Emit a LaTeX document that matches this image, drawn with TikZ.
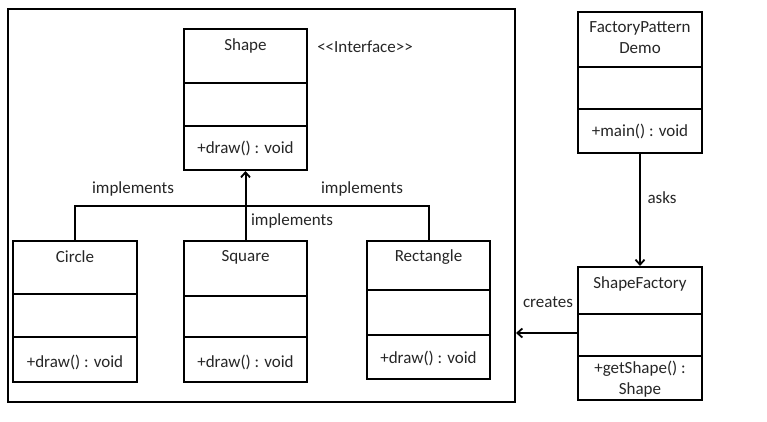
\documentclass[tikz,border=0pt]{standalone}
\usepackage{fontspec}
\setmainfont{Carlito}
\usetikzlibrary{arrows.meta}
\tikzset{
  cls/.style={draw=black, line width=2pt, fill=white, inner sep=0pt},
  txt/.style={inner sep=0pt, font=\fontsize{17}{21}\selectfont, text=black!85, align=center},
  conn/.style={draw=black, line width=2pt},
  arr/.style={conn, -{Straight Barb[length=5pt,width=9pt,line width=1.8pt]}},
}
\begin{document}
\begin{tikzpicture}[x=1pt,y=-1pt]
\useasboundingbox (0,0) rectangle (767,421);
% frame
\node[cls, minimum width=507pt, minimum height=393pt] (frame) at (261.5,205.5) {};
% Shape interface
\node[cls, minimum width=123pt, minimum height=141pt] (shape) at (245.5,99.5) {};
\draw[conn] (shape.west |- 0,83) -- (shape.east |- 0,83);
\draw[conn] (shape.west |- 0,126) -- (shape.east |- 0,126);
\node[txt] (shapeT) at (245.5,46) {Shape};
\node[txt] (shapeM) at (245.5,148) {+draw() : void};
\node[txt] (iface) at (365,47) {<{}<Interface>{}>};
% Circle
\node[cls, minimum width=124pt, minimum height=141pt] (circle) at (75,311.5) {};
\draw[conn] (circle.west |- 0,294) -- (circle.east |- 0,294);
\draw[conn] (circle.west |- 0,337) -- (circle.east |- 0,337);
\node[txt] (circleT) at (75,257) {Circle};
\node[txt] (circleM) at (75,362) {+draw() : void};
% Square
\node[cls, minimum width=123pt, minimum height=141pt] (square) at (245.5,311.5) {};
\draw[conn] (square.west |- 0,296) -- (square.east |- 0,296);
\draw[conn] (square.west |- 0,337) -- (square.east |- 0,337);
\node[txt] (squareT) at (245.5,257) {Square};
\node[txt] (squareM) at (245.5,362) {+draw() : void};
% Rectangle
\node[cls, minimum width=123pt, minimum height=138pt] (rect) at (428.5,310) {};
\draw[conn] (rect.west |- 0,290) -- (rect.east |- 0,290);
\draw[conn] (rect.west |- 0,335) -- (rect.east |- 0,335);
\node[txt] (rectT) at (428.5,257) {Rectangle};
\node[txt] (rectM) at (428.5,358) {+draw() : void};
% FactoryPatternDemo
\node[cls, minimum width=124pt, minimum height=141pt] (fpd) at (640,82.5) {};
\draw[conn] (fpd.west |- 0,67) -- (fpd.east |- 0,67);
\draw[conn] (fpd.west |- 0,109) -- (fpd.east |- 0,109);
\node[txt] (fpdT) at (640,37.5) {FactoryPattern\\Demo};
\node[txt] (fpdM) at (640,131) {+main() : void};
% ShapeFactory
\node[cls, minimum width=124pt, minimum height=133pt] (sf) at (640,333.5) {};
\draw[conn] (sf.west |- 0,314) -- (sf.east |- 0,314);
\draw[conn] (sf.west |- 0,356) -- (sf.east |- 0,356);
\node[txt] (sfT) at (640,284) {ShapeFactory};
\node[txt] (sfM) at (640,379.5) {+getShape() :\\Shape};
% connectors
\coordinate (br) at (245.5,206);
\draw[conn] (circle.north) |- (br) -| (rect.north);
\draw[arr] (square.north) -- (shape.south);
\draw[arr] (fpd.south) -- (sf.north);
\draw[arr] (sf.west |- 0,333) -- (frame.east |- 0,333);
% connector labels
\node[txt] (impL) at (133,189) {implements};
\node[txt] (impR) at (362,189) {implements};
\node[txt] (impM) at (292,221) {implements};
\node[txt] (asks) at (662,198) {asks};
\node[txt] (creates) at (548,302) {creates};
\end{tikzpicture}
\end{document}
